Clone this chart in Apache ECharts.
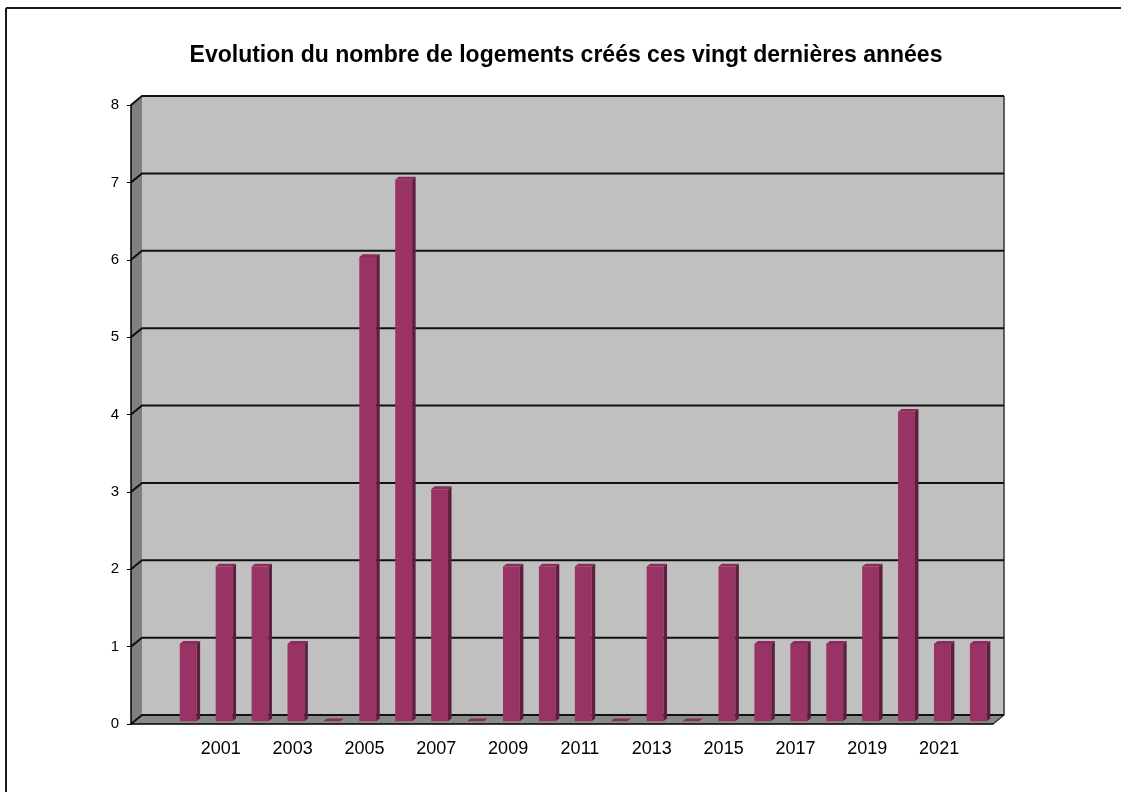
<!DOCTYPE html>
<html>
<head>
<meta charset="utf-8">
<title>Logements créés</title>
<script src="https://cdn.jsdelivr.net/npm/echarts@6/dist/echarts.min.js"></script>
<style>
  html, body { margin: 0; padding: 0; background: #fff; }
  #chart { width: 1121px; height: 792px; }
</style>
</head>
<body>
<div id="chart"></div>
<script>
// données
const annees = ['', '2000', '2001', '2002', '2003', '2004', '2005', '2006', '2007', '2008', '2009', '2010',
  '2011', '2012', '2013', '2014', '2015', '2016', '2017', '2018', '2019', '2020', '2021', '2022']
const logements = [null, 1, 2, 2, 1, 0, 6, 7, 3, 0, 2, 2, 2, 0, 2, 0, 2, 1, 1, 1, 2, 4, 1, 1]
const graduations = [0, 1, 2, 3, 4, 5, 6, 7, 8]

// profondeur du faux 3D
const DX = 11
const DY = -9

const chart = echarts.init(document.getElementById('chart'))

function renderMurs(params, api) {
  const cs = params.coordSys
  const x0 = cs.x
  const x1 = cs.x + cs.width
  const yt = cs.y
  const yb = cs.y + cs.height
  return {
    type: 'group',
    children: [
      { type: 'rect', shape: { x: x0 + DX, y: yt + DY, width: cs.width, height: cs.height }, style: { fill: '#c0c0c0' } },
      { type: 'polygon', shape: { points: [[x0, yb], [x0, yt], [x0 + DX, yt + DY], [x0 + DX, yb + DY]] }, style: { fill: '#808080' } },
      { type: 'polygon', shape: { points: [[x0, yb], [x1, yb], [x1 + DX, yb + DY], [x0 + DX, yb + DY]] }, style: { fill: '#8a8a8a' } },
      { type: 'polyline', shape: { points: [[x1 + DX, yt + DY], [x1 + DX, yb + DY], [x1, yb]] }, style: { stroke: '#333', lineWidth: 1.5, fill: null } }
    ]
  }
}

function renderGrille(params, api) {
  const cs = params.coordSys
  const y = api.coord([0, api.value(1)])[1]
  const x0 = cs.x
  const x1 = cs.x + cs.width
  return {
    type: 'polyline',
    shape: { points: [[x0, y], [x0 + DX, y + DY], [x1 + DX, y + DY]] },
    style: { stroke: '#111', lineWidth: 2, fill: null }
  }
}

function renderBarre(params, api) {
  const v = api.value(1)
  if (v === null || isNaN(v)) return
  const base = api.coord([api.value(0), 0])
  const haut = api.coord([api.value(0), v])
  const bw = api.size([1, 0])[0] * 0.47
  const ox = DX * 0.3
  const oy = DY * 0.3
  const ddx = DX * 0.32
  const ddy = DY * 0.32
  const xl = base[0] - bw / 2 + ox
  const xr = xl + bw
  const yT = haut[1] + oy
  const yB = base[1] + oy
  const enfants = [
    { type: 'polygon', shape: { points: [[xl, yT], [xr, yT], [xr + ddx, yT + ddy], [xl + ddx, yT + ddy]] }, style: { fill: '#8a2c5c' } }
  ]
  if (v > 0) {
    enfants.push({ type: 'rect', shape: { x: xl, y: yT, width: bw, height: yB - yT }, style: { fill: '#993366' } })
    enfants.push({ type: 'polygon', shape: { points: [[xr, yT], [xr + ddx, yT + ddy], [xr + ddx, yB + ddy], [xr, yB]] }, style: { fill: '#5e1f3f' } })
  }
  return { type: 'group', children: enfants }
}

chart.setOption({
  animation: false,
  title: {
    text: 'Evolution du nombre de logements créés ces vingt dernières années',
    left: 561,
    textAlign: 'center',
    top: 39,
    textStyle: { fontFamily: 'Liberation Sans, Arial, sans-serif', fontWeight: 'bold', fontSize: 23, color: '#000' }
  },
  graphic: [
    { type: 'line', shape: { x1: 6, y1: 8, x2: 1121, y2: 8 }, style: { stroke: '#1a1a1a', lineWidth: 2 } },
    { type: 'line', shape: { x1: 6, y1: 8, x2: 6, y2: 792 }, style: { stroke: '#1a1a1a', lineWidth: 2 } }
  ],
  grid: { left: 131, right: 128, top: 105, bottom: 68 },
  xAxis: {
    type: 'category',
    data: annees,
    z: 10,
    axisLine: { lineStyle: { color: '#000', width: 1.5 } },
    axisTick: { interval: 0, length: 6, lineStyle: { color: '#000' } },
    axisLabel: { interval: 1, margin: 16, fontSize: 18, color: '#000', fontFamily: 'Liberation Sans, Arial, sans-serif' }
  },
  yAxis: {
    type: 'value',
    min: 0,
    max: 8,
    interval: 1,
    z: 10,
    axisLine: { show: true, lineStyle: { color: '#000', width: 1.5 } },
    axisTick: { show: true, length: 4, lineStyle: { color: '#000' } },
    splitLine: { show: false },
    axisLabel: { margin: 12, fontSize: 15, color: '#000', fontFamily: 'Liberation Sans, Arial, sans-serif' }
  },
  series: [
    { type: 'custom', z: 1, silent: true, renderItem: renderMurs, data: [[0, 0]] },
    { type: 'custom', z: 2, silent: true, renderItem: renderGrille, data: graduations.map(g => [0, g]) },
    { type: 'custom', z: 3, renderItem: renderBarre, data: logements.map((v, i) => [i, v]) }
  ]
})
</script>
</body>
</html>
